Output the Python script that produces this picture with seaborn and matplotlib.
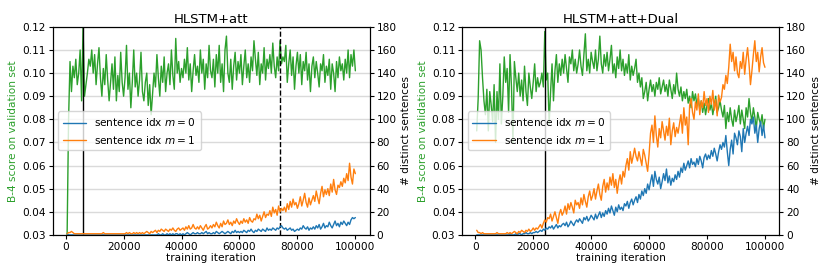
import numpy as np
import pandas as pd
import matplotlib
matplotlib.use("Agg")
import matplotlib.pyplot as plt
import seaborn as sns

# training iterations, one sample every 500 steps
iters = np.arange(500, 100001, 500)

# HLSTM+att
att_b4 = [
    0.030, 0.080, 0.105, 0.092, 0.103, 0.098, 0.106, 0.095, 0.100, 0.110,
    0.088, 0.120, 0.090, 0.095, 0.100, 0.106, 0.103, 0.110, 0.100, 0.108,
    0.095, 0.104, 0.111, 0.098, 0.090, 0.102, 0.095, 0.108, 0.097, 0.088,
    0.096, 0.104, 0.093, 0.107, 0.088, 0.099, 0.092, 0.109, 0.096, 0.090,
    0.098, 0.112, 0.093, 0.100, 0.085, 0.096, 0.110, 0.094, 0.100, 0.090,
    0.097, 0.109, 0.092, 0.088, 0.096, 0.100, 0.086, 0.095, 0.082, 0.091,
    0.100, 0.094, 0.108, 0.098, 0.090, 0.103, 0.096, 0.107, 0.092, 0.100,
    0.104, 0.095, 0.110, 0.099, 0.093, 0.115, 0.100, 0.105, 0.096, 0.102,
    0.098, 0.106, 0.100, 0.111, 0.097, 0.104, 0.092, 0.101, 0.108, 0.099,
    0.103, 0.096, 0.110, 0.100, 0.106, 0.093, 0.104, 0.098, 0.112, 0.101,
    0.098, 0.106, 0.094, 0.108, 0.100, 0.112, 0.096, 0.104, 0.092, 0.110,
    0.116, 0.100, 0.096, 0.106, 0.093, 0.103, 0.109, 0.097, 0.105, 0.100,
    0.108, 0.095, 0.103, 0.110, 0.098, 0.104, 0.096, 0.107, 0.101, 0.114,
    0.106, 0.099, 0.109, 0.095, 0.104, 0.100, 0.111, 0.097, 0.106, 0.102,
    0.108, 0.100, 0.113, 0.103, 0.098, 0.107, 0.101, 0.114, 0.104, 0.107,
    0.105, 0.112, 0.096, 0.104, 0.110, 0.099, 0.107, 0.093, 0.103, 0.109,
    0.100, 0.108, 0.095, 0.105, 0.101, 0.109, 0.097, 0.104, 0.092, 0.103,
    0.107, 0.098, 0.105, 0.100, 0.094, 0.104, 0.101, 0.108, 0.096, 0.103,
    0.099, 0.106, 0.093, 0.104, 0.100, 0.092, 0.105, 0.098, 0.107, 0.101,
    0.104, 0.097, 0.106, 0.100, 0.110, 0.098, 0.108, 0.103, 0.110, 0.101,
]
att_m0 = [
    1, 0, 0, 0, 0, 0, 0, 0, 0, 0,
    0, 0, 0, 0, 0, 0, 0, 0, 0, 0,
    0, 0, 0, 0, 0, 0, 0, 0, 0, 0,
    0, 0, 0, 0, 0, 0, 0, 0, 0, 0,
    0, 0, 0, 0, 0, 0, 0, 0, 0, 0,
    0, 0, 0, 0, 0, 0, 0, 0, 0, 0,
    0, 0, 0, 1, 0, 0, 1, 0, 0, 1,
    0, 1, 0, 1, 0, 1, 1, 0, 1, 0,
    1, 0, 1, 2, 1, 0, 1, 2, 1, 1,
    2, 1, 1, 2, 1, 2, 3, 1, 2, 1,
    1, 2, 1, 3, 2, 1, 2, 3, 2, 1,
    2, 3, 2, 1, 3, 2, 4, 2, 3, 2,
    3, 2, 4, 3, 2, 4, 3, 5, 3, 2,
    4, 3, 5, 4, 3, 5, 4, 3, 6, 4,
    5, 4, 6, 5, 4, 6, 5, 7, 8, 6,
    5, 6, 4, 5, 6, 4, 5, 3, 4, 5,
    4, 6, 5, 8, 6, 5, 7, 4, 6, 5,
    7, 5, 8, 6, 9, 5, 7, 10, 6, 8,
    7, 11, 8, 6, 9, 12, 8, 10, 7, 11,
    9, 12, 10, 8, 11, 9, 13, 15, 14, 15,
]
att_m1 = [
    1, 2, 2, 3, 2, 1, 1, 1, 1, 1,
    1, 1, 1, 1, 1, 1, 1, 1, 1, 1,
    1, 1, 1, 1, 1, 2, 1, 1, 1, 1,
    1, 1, 1, 1, 1, 1, 1, 1, 1, 1,
    1, 2, 1, 2, 1, 1, 2, 1, 2, 1,
    2, 1, 2, 1, 2, 3, 2, 1, 3, 2,
    3, 4, 2, 4, 3, 5, 4, 3, 5, 4,
    3, 5, 4, 6, 4, 3, 5, 6, 4, 5,
    6, 4, 7, 5, 8, 5, 6, 9, 6, 5,
    7, 5, 8, 6, 4, 7, 9, 5, 6, 8,
    6, 9, 7, 11, 8, 6, 10, 7, 12, 9,
    10, 13, 9, 11, 8, 12, 10, 14, 11, 9,
    12, 10, 14, 11, 13, 10, 15, 12, 11, 14,
    13, 18, 14, 17, 12, 16, 20, 15, 18, 17,
    21, 16, 24, 19, 22, 17, 25, 20, 23, 21,
    24, 20, 27, 22, 29, 24, 31, 26, 28, 23,
    27, 33, 25, 30, 36, 28, 24, 32, 26, 30,
    34, 29, 38, 32, 27, 36, 42, 33, 39, 35,
    40, 34, 44, 37, 48, 39, 35, 43, 41, 46,
    42, 49, 45, 53, 47, 62, 50, 44, 57, 53,
]

# HLSTM+att+Dual
dual_b4 = [
    0.075, 0.089, 0.114, 0.110, 0.098, 0.088, 0.082, 0.093, 0.075, 0.092,
    0.086, 0.079, 0.095, 0.070, 0.092, 0.080, 0.104, 0.078, 0.090, 0.107,
    0.096, 0.102, 0.083, 0.108, 0.094, 0.070, 0.105, 0.098, 0.092, 0.100,
    0.090, 0.097, 0.088, 0.103, 0.092, 0.086, 0.100, 0.094, 0.089, 0.096,
    0.104, 0.092, 0.098, 0.094, 0.096, 0.100, 0.094, 0.118, 0.097, 0.100,
    0.078, 0.092, 0.104, 0.088, 0.101, 0.108, 0.096, 0.104, 0.099, 0.106,
    0.100, 0.108, 0.102, 0.096, 0.107, 0.104, 0.110, 0.101, 0.106, 0.100,
    0.104, 0.110, 0.103, 0.099, 0.108, 0.117, 0.101, 0.106, 0.100, 0.109,
    0.105, 0.102, 0.110, 0.101, 0.106, 0.116, 0.104, 0.100, 0.108, 0.103,
    0.109, 0.101, 0.106, 0.112, 0.100, 0.104, 0.098, 0.107, 0.102, 0.110,
    0.101, 0.106, 0.099, 0.104, 0.100, 0.108, 0.097, 0.103, 0.099, 0.102,
    0.106, 0.096, 0.100, 0.094, 0.098, 0.089, 0.092, 0.096, 0.088, 0.093,
    0.097, 0.092, 0.095, 0.090, 0.096, 0.093, 0.098, 0.091, 0.094, 0.097,
    0.092, 0.095, 0.090, 0.097, 0.093, 0.089, 0.095, 0.091, 0.100, 0.093,
    0.090, 0.094, 0.088, 0.092, 0.089, 0.093, 0.087, 0.090, 0.085, 0.092,
    0.088, 0.091, 0.086, 0.089, 0.084, 0.088, 0.083, 0.087, 0.082, 0.086,
    0.089, 0.084, 0.087, 0.082, 0.086, 0.090, 0.083, 0.085, 0.088, 0.084,
    0.081, 0.086, 0.076, 0.083, 0.079, 0.085, 0.080, 0.077, 0.084, 0.079,
    0.082, 0.086, 0.078, 0.084, 0.080, 0.076, 0.085, 0.081, 0.089, 0.083,
    0.079, 0.085, 0.081, 0.076, 0.083, 0.080, 0.078, 0.082, 0.076, 0.080,
]
dual_m0 = [
    0, 0, 0, 0, 0, 0, 0, 0, 0, 0,
    0, 0, 0, 0, 0, 0, 0, 0, 0, 0,
    0, 0, 0, 1, 0, 0, 0, 1, 0, 1,
    1, 0, 1, 1, 2, 1, 1, 2, 1, 2,
    2, 3, 2, 3, 4, 3, 5, 4, 6, 5,
    7, 6, 8, 5, 7, 9, 6, 8, 7, 9,
    10, 8, 11, 7, 9, 12, 10, 8, 11, 13,
    11, 14, 12, 10, 15, 13, 16, 12, 14, 17,
    15, 13, 18, 14, 17, 20, 15, 19, 16, 21,
    18, 23, 19, 25, 21, 17, 24, 20, 26, 22,
    24, 21, 27, 25, 29, 23, 28, 31, 26, 30,
    33, 28, 35, 31, 38, 34, 40, 36, 44, 39,
    46, 52, 42, 55, 48, 44, 50, 40, 46, 53,
    47, 57, 45, 51, 43, 49, 46, 52, 48, 55,
    50, 58, 54, 62, 56, 60, 64, 58, 66, 61,
    63, 59, 66, 61, 68, 64, 58, 67, 70, 65,
    69, 66, 73, 68, 75, 70, 64, 72, 78, 74,
    80, 76, 86, 72, 60, 74, 82, 70, 88, 84,
    78, 90, 85, 72, 92, 80, 88, 94, 86, 100,
    96, 102, 88, 95, 80, 92, 98, 86, 95, 84,
]
dual_m1 = [
    4, 2, 2, 1, 2, 1, 1, 1, 1, 1,
    1, 1, 1, 1, 2, 1, 1, 1, 1, 1,
    1, 2, 1, 2, 1, 2, 3, 2, 1, 3,
    2, 4, 3, 2, 4, 3, 5, 3, 4, 6,
    4, 6, 5, 7, 9, 6, 10, 13, 11, 15,
    14, 18, 12, 16, 20, 15, 10, 18, 22, 17,
    20, 25, 18, 27, 22, 28, 24, 19, 30, 26,
    28, 23, 32, 26, 35, 29, 24, 33, 38, 30,
    34, 40, 31, 38, 44, 35, 30, 42, 48, 37,
    45, 39, 50, 43, 53, 41, 48, 36, 46, 52,
    44, 55, 50, 60, 66, 56, 72, 62, 68, 75,
    68, 64, 72, 66, 60, 74, 69, 62, 55, 70,
    88, 95, 80, 103, 86, 76, 92, 84, 98, 90,
    82, 94, 86, 101, 78, 90, 97, 85, 93, 88,
    96, 104, 88, 110, 95, 102, 78, 112, 118, 106,
    100, 115, 108, 122, 104, 116, 110, 124, 112, 118,
    106, 120, 113, 125, 108, 117, 103, 121, 115, 119,
    130, 126, 138, 131, 145, 165, 150, 158, 142, 154,
    140, 136, 150, 144, 158, 139, 152, 162, 148, 130,
    142, 156, 168, 150, 158, 141, 154, 162, 149, 145,
]

titles = ["HLSTM+att", "HLSTM+att+Dual"]
b4_series = [att_b4, dual_b4]
m0_series = [att_m0, dual_m0]
m1_series = [att_m1, dual_m1]
# (iteration, linestyle) of the vertical markers in each panel
markers = [[(6000, "-"), (74000, "--")], [(24000, "-")]]

sns.set_style("ticks")
plt.rcParams.update({
    "font.family": ["DejaVu Sans"],
    "font.size": 7.5,
    "axes.edgecolor": "black",
    "xtick.color": "black",
    "ytick.color": "black",
    "text.color": "black",
    "axes.labelcolor": "black",
    "axes.linewidth": 0.8,
    "xtick.major.size": 3,
    "ytick.major.size": 3,
})

green, blue, orange = "#2ca02c", "#1f77b4", "#ff7f0e"
fs = 7.6

fig = plt.figure(figsize=(8.3, 2.77), dpi=100)
positions = [[0.0635, 0.152, 0.382, 0.751], [0.557, 0.152, 0.382, 0.751]]

for i in range(2):
    ax = fig.add_axes(positions[i])
    df = pd.DataFrame({"iter": iters, "b4": b4_series[i],
                       "m0": m0_series[i], "m1": m1_series[i]})

    ax.yaxis.grid(True, color="#dadada", lw=1.0)
    ax.set_axisbelow(True)
    sns.lineplot(data=df, x="iter", y="b4", ax=ax, color=green, lw=1)
    for xv, ls in markers[i]:
        ax.axvline(xv, color="black", ls=ls, lw=1)
    ax.set_ylim(0.03, 0.12)
    ax.set_yticks(np.arange(0.03, 0.1201, 0.01))
    ax.set_yticklabels([f"{v:.2f}" for v in np.arange(0.03, 0.1201, 0.01)])
    ax.set_xticks([0, 20000, 40000, 60000, 80000, 100000])
    ax.set_xlabel("training iteration", fontsize=fs, labelpad=1)
    ax.set_ylabel("B-4 score on validation set", color=green, fontsize=fs,
                  labelpad=3)
    ax.set_title(titles[i], fontsize=9.5, pad=3)
    ax.tick_params(labelsize=fs, pad=2)

    ax2 = ax.twinx()
    sns.lineplot(data=df, x="iter", y="m0", ax=ax2, color=blue, lw=1,
                 label=r"sentence idx $m=0$")
    sns.lineplot(data=df, x="iter", y="m1", ax=ax2, color=orange, lw=1,
                 label=r"sentence idx $m=1$")
    ax2.set_ylim(0, 180)
    ax2.set_yticks(range(0, 181, 20))
    ax2.set_ylabel("# distinct sentences", fontsize=fs, labelpad=3)
    ax2.tick_params(labelsize=fs, pad=2)
    ax2.legend(loc="center left", fontsize=fs, frameon=True,
               borderpad=0.45, handlelength=2.2)

fig.savefig("out.png", dpi=100)
